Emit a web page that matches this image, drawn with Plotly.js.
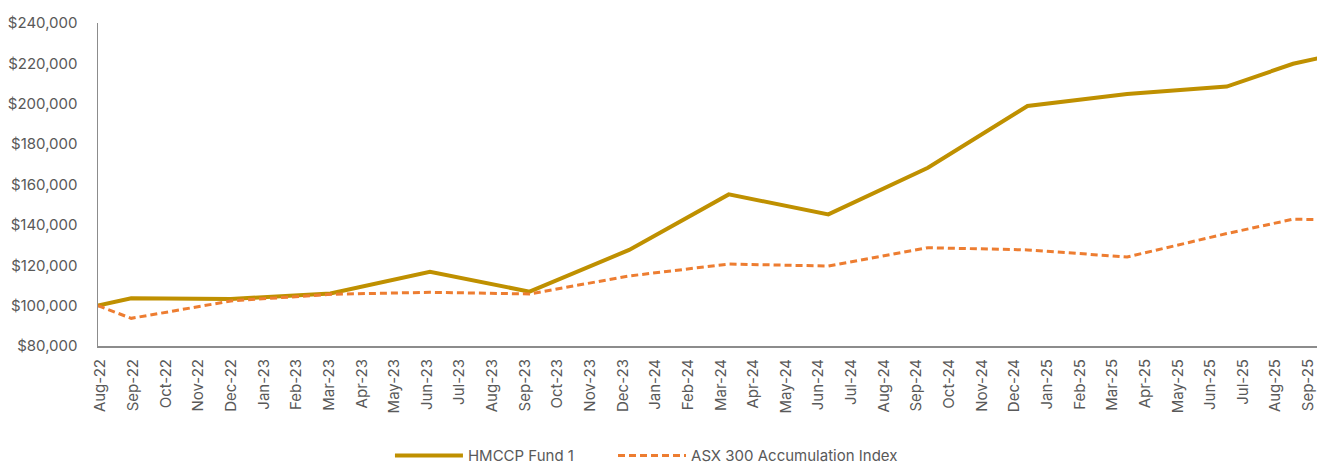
<!DOCTYPE html>
<html>
<head>
<meta charset="utf-8">
<script src="https://cdn.plot.ly/plotly-3.0.1.min.js"></script>
<style>html,body{margin:0;padding:0;background:#fff;}#chart{width:1317px;height:468px;}</style>
</head>
<body>
<div id="chart"></div>
<script>
const months = ["Aug-22","Sep-22","Oct-22","Nov-22","Dec-22","Jan-23","Feb-23","Mar-23","Apr-23","May-23","Jun-23","Jul-23","Aug-23","Sep-23","Oct-23","Nov-23","Dec-23","Jan-24","Feb-24","Mar-24","Apr-24","May-24","Jun-24","Jul-24","Aug-24","Sep-24","Oct-24","Nov-24","Dec-24","Jan-25","Feb-25","Mar-25","Apr-25","May-25","Jun-25","Jul-25","Aug-25","Sep-25"];
// observation dates (null = no observation that month)
const fundValues = [100000,103600,null,null,103300,null,null,106000,null,null,116800,null,null,106900,null,null,127600,null,null,155100,null,null,145200,null,null,168300,null,null,198900,null,null,204800,null,null,208500,null,219800,223400];
const indexValues = [100000,93700,null,null,102300,null,null,105600,null,null,106600,null,null,105800,null,null,114700,null,null,120600,null,null,119600,null,null,128700,null,null,127600,null,null,124100,null,null,135700,null,142800,142600];
const seriesNames = ["HMCCP Fund 1","ASX 300 Accumulation Index"];
const yTickVals = [80000,100000,120000,140000,160000,180000,200000,220000,240000];

const font = {family:"Inter, 'Noto Sans', sans-serif", size:15, color:"#595959"};

const traces = [
  {x:months, y:fundValues, name:seriesNames[0], type:"scatter", mode:"lines", connectgaps:true,
   line:{color:"#BF9000", width:4}, xaxis:"x", yaxis:"y", hoverinfo:"x+y", legend:"legend"},
  {x:months, y:indexValues, name:seriesNames[1], type:"scatter", mode:"lines", connectgaps:true,
   line:{color:"#ED7D31", width:3, dash:"7px,4px"}, xaxis:"x", yaxis:"y", hoverinfo:"x+y", legend:"legend2"},
  {x:months, y:months.map(()=>null), type:"scatter", mode:"lines", showlegend:false, hoverinfo:"skip",
   xaxis:"x2", yaxis:"y"}
];

const legendBase = {orientation:"h", xanchor:"left", y:-0.34, yanchor:"middle",
  font:{family:font.family, size:15, color:"#595959"}, itemwidth:68, bgcolor:"rgba(0,0,0,0)"};

const layout = {
  width:1317, height:468,
  margin:{l:98, r:0, t:23, b:122, autoexpand:false},
  paper_bgcolor:"#fff", plot_bgcolor:"#fff",
  font:font,
  showlegend:true,
  legend:Object.assign({}, legendBase, {x:0.2395}),
  legend2:Object.assign({}, legendBase, {x:0.4225}),
  xaxis:{type:"category", categoryarray:months, range:[0,36.72], showticklabels:false,
         showline:true, linecolor:"#8c8c8c", linewidth:1.5, showgrid:false, zeroline:false, ticks:"", fixedrange:true},
  xaxis2:{type:"category", categoryarray:months, overlaying:"x", anchor:"y", side:"bottom",
          range:[-0.077,37.27], tickmode:"array", tickvals:months, ticktext:months,
          showline:false, showgrid:false, zeroline:false, ticks:"",
          tickangle:-90, tickfont:{family:font.family, size:15, color:"#595959"}, ticklabelstandoff:9, fixedrange:true},
  yaxis:{range:[80000,240000], tickvals:yTickVals, tickformat:"$,.0f", showline:true, linecolor:"#8c8c8c", linewidth:1.5,
         showgrid:false, zeroline:false, ticks:"", ticklabelstandoff:16,
         tickfont:{family:font.family, size:15, color:"#595959"}, fixedrange:true}
};

Plotly.newPlot("chart", traces, layout, {displayModeBar:false, staticPlot:true});
</script>
</body>
</html>
